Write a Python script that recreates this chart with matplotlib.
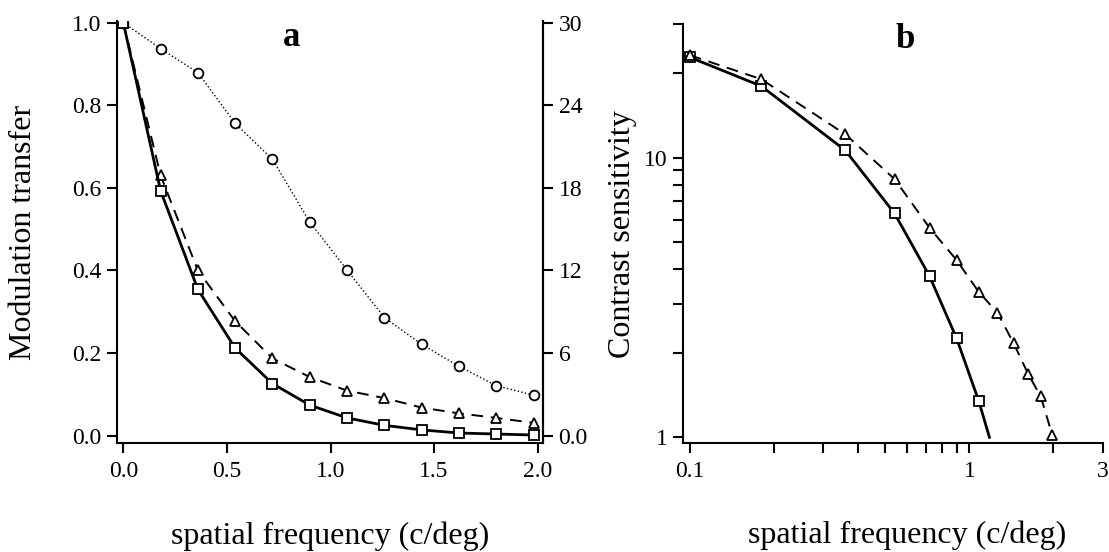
import matplotlib
matplotlib.use("Agg")
import matplotlib.pyplot as plt
from matplotlib.ticker import FixedLocator, FixedFormatter, NullFormatter

plt.rcParams['font.family'] = ['Liberation Serif', 'DejaVu Serif']

# panel a: modulation transfer vs spatial frequency
freq_a = [0.0, 0.18, 0.36, 0.54, 0.72, 0.90, 1.08, 1.26, 1.44, 1.62, 1.80, 1.98]
circle_a = [1.0, 0.937, 0.879, 0.756, 0.669, 0.517, 0.401, 0.286, 0.221, 0.168, 0.121, 0.098]
triangle_a = [1.0, 0.63, 0.40, 0.277, 0.187, 0.142, 0.109, 0.091, 0.068, 0.054, 0.043, 0.031]
square_a = [1.0, 0.593, 0.354, 0.212, 0.126, 0.074, 0.043, 0.025, 0.014, 0.0064, 0.004, 0.0016]

# panel b: contrast sensitivity (log-log)
freq_b_sq = [0.1, 0.18, 0.36, 0.54, 0.72, 0.90, 1.08, 1.18]
square_b = [22.8, 18.0, 10.6, 6.31, 3.77, 2.26, 1.35, 1.0]
freq_b_tri = [0.1, 0.18, 0.36, 0.54, 0.72, 0.90, 1.08, 1.26, 1.44, 1.62, 1.80, 1.98]
triangle_b = [23.2, 19.05, 12.1, 8.37, 5.61, 4.30, 3.31, 2.79, 2.17, 1.69, 1.40, 1.02]

left_ticks = [0.0, 0.2, 0.4, 0.6, 0.8, 1.0]
right_ticks = [0, 6, 12, 18, 24, 30]
right_labels = ['0.0', '6', '12', '18', '24', '30']

TICK = 17
LABEL = 23

fig = plt.figure(figsize=(11.09, 5.52), dpi=100)

# ---- panel a ----
ax = fig.add_axes([0.1052, 0.1975, 0.3847, 0.7645])
ax.plot(freq_a, circle_a, color='black', linestyle=':', linewidth=1.0,
        marker='o', markersize=7, markerfacecolor='white', markeredgewidth=1.3)
ax.plot(freq_a, triangle_a, color='black', linestyle=(0, (6, 4)), linewidth=1.4,
        marker='^', markersize=6.5, markerfacecolor='white', markeredgewidth=1.3)
ax.plot(freq_a, square_a, color='black', linestyle='-', linewidth=2.0,
        marker='s', markersize=7, markerfacecolor='white', markeredgewidth=1.3)
ax.set_xlim(-0.032, 2.027)
ax.set_ylim(-0.0177, 1.004)
ax.set_xticks([0.0, 0.5, 1.0, 1.5, 2.0])
ax.set_xticklabels(['0.0', '0.5', '1.0', '1.5', '2.0'])
ax.set_yticks(left_ticks)
ax.set_yticklabels(['%.1f' % v for v in left_ticks])
ax.spines['top'].set_visible(False)
for s in ['left', 'bottom', 'right']:
    ax.spines[s].set_linewidth(1.5)
ax.tick_params(axis='x', direction='out', length=7, width=1.5, labelsize=TICK, pad=6)
ax.tick_params(axis='y', direction='out', length=7, width=1.5, labelsize=TICK, pad=4)
ax.set_ylabel('Modulation transfer', fontsize=LABEL)
ax.yaxis.set_label_coords(-0.185, 0.5)
ax.set_xlabel('spatial frequency (c/deg)', fontsize=LABEL)
ax.xaxis.set_label_coords(0.5, -0.185)
ax.text(0.41, 0.962, 'a', transform=ax.transAxes, fontsize=25, fontweight='bold',
        ha='center', va='center')

ax2 = ax.twinx()
ax2.set_ylim(-0.0177 * 30, 1.004 * 30)
ax2.yaxis.set_major_locator(FixedLocator(right_ticks))
ax2.yaxis.set_major_formatter(FixedFormatter(right_labels))
ax2.spines['top'].set_visible(False)
ax2.spines['left'].set_visible(False)
ax2.spines['bottom'].set_visible(False)
ax2.spines['right'].set_linewidth(1.5)
ax2.tick_params(axis='y', direction='out', length=7, width=1.5, labelsize=TICK, pad=4)

# ---- panel b ----
bx = fig.add_axes([0.6156, 0.1969, 0.3787, 0.7596])
bx.plot(freq_b_sq, square_b, color='black', linestyle='-', linewidth=2.0,
        marker='s', markersize=7, markerfacecolor='white', markeredgewidth=1.3,
        markevery=slice(0, 7))
bx.plot(freq_b_tri, triangle_b, color='black', linestyle=(0, (6, 4)), linewidth=1.4,
        marker='^', markersize=6.5, markerfacecolor='white', markeredgewidth=1.3)
bx.set_xscale('log')
bx.set_yscale('log')
bx.set_xlim(0.0942, 3.0)
bx.set_ylim(0.952, 30.0)
bx.xaxis.set_major_locator(FixedLocator([0.1, 1, 3]))
bx.xaxis.set_major_formatter(FixedFormatter(['0.1', '1', '3']))
bx.xaxis.set_minor_locator(FixedLocator([0.2, 0.3, 0.4, 0.5, 0.6, 0.7, 0.8, 0.9, 2]))
bx.xaxis.set_minor_formatter(NullFormatter())
bx.yaxis.set_major_locator(FixedLocator([1, 10]))
bx.yaxis.set_major_formatter(FixedFormatter(['1', '10']))
bx.yaxis.set_minor_locator(FixedLocator([2, 3, 4, 5, 6, 7, 8, 9, 20, 30]))
bx.yaxis.set_minor_formatter(NullFormatter())
bx.spines['top'].set_visible(False)
bx.spines['right'].set_visible(False)
for s in ['left', 'bottom']:
    bx.spines[s].set_linewidth(1.5)
bx.tick_params(axis='x', which='both', direction='out', length=7, width=1.5, labelsize=TICK, pad=6)
bx.tick_params(axis='y', which='both', direction='out', length=7, width=1.5, labelsize=TICK, pad=4)
bx.set_ylabel('Contrast sensitivity', fontsize=LABEL)
bx.yaxis.set_label_coords(-0.11, 0.5)
bx.set_xlabel('spatial frequency (c/deg)', fontsize=LABEL)
bx.xaxis.set_label_coords(0.535, -0.185)
bx.text(0.53, 0.962, 'b', transform=bx.transAxes, fontsize=25, fontweight='bold',
        ha='center', va='center')

fig.savefig('out.png', dpi=100)
